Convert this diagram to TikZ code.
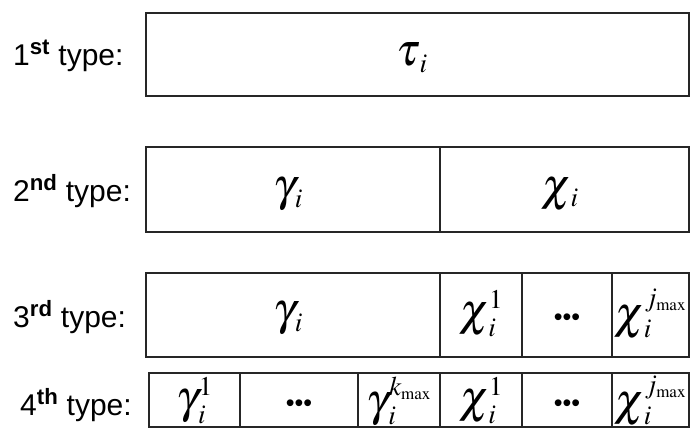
\documentclass[tikz,border=0pt]{standalone}
\usepackage{mathptmx}
\usepackage{fontspec}
\setmainfont{Liberation Sans}
\DeclareMathSizes{46}{46}{27}{17}
\begin{document}
\begin{tikzpicture}[x=1pt,y=-1pt,
  frame/.style={draw=black!85, line width=1.4pt},
  rowlabel/.style={anchor=west, inner sep=0pt, font=\fontsize{30}{32}\selectfont},
  mth/.style={inner sep=0pt, font=\fontsize{46}{48}\selectfont},
  dots/.style={inner sep=0pt, font=\fontsize{25}{27}\selectfont}]
\useasboundingbox (0,0) rectangle (691,428);
% frames
\draw[frame] (146,13) rectangle (689,96);
\draw[frame] (146,147) rectangle (440,232);
\draw[frame] (440,147) rectangle (689,232);
\draw[frame] (146,273) rectangle (440,357);
\draw[frame] (440,273) rectangle (522,357);
\draw[frame] (522,273) rectangle (612,357);
\draw[frame] (612,273) rectangle (689,357);
\draw[frame] (149,373) rectangle (240,427);
\draw[frame] (240,373) rectangle (358,427);
\draw[frame] (358,373) rectangle (440,427);
\draw[frame] (440,373) rectangle (522,427);
\draw[frame] (522,373) rectangle (612,427);
\draw[frame] (612,373) rectangle (689,427);
% row labels
\node[rowlabel] (l1) at (13,56) {1\textsuperscript{\textbf{st}} type:};
\node[rowlabel] (l2) at (13,191) {2\textsuperscript{\textbf{nd}} type:};
\node[rowlabel] (l3) at (13,317) {3\textsuperscript{\textbf{rd}} type:};
\node[rowlabel] (l4) at (20,405) {4\textsuperscript{\textbf{th}} type:};
% cell texts
\node[mth] (t1) at (412,58) {$\tau_{\,i}$};
\node[mth] (g2) at (288,194) {$\gamma_{\,i}$};
\node[mth] (c2) at (560,194) {$\chi_{\,i}$};
\node[mth] (g3) at (288,318) {$\gamma_{\,i}$};
\node[mth] (c3a) at (481,314) {$\chi_{\,i}^1$};
\node[dots] (c3b) at (567,320) {•••};
\node[mth] (c3c) at (650.5,314) {$\chi_{\,i}^{j_{\max}}$};
\node[mth] (g4a) at (194.5,401) {$\gamma_{\,i}^1$};
\node[dots] (g4b) at (299,406) {•••};
\node[mth] (g4c) at (399,401) {$\gamma_{\,i}^{k_{\max}}$};
\node[mth] (c4a) at (481,401) {$\chi_{\,i}^1$};
\node[dots] (c4b) at (567,406) {•••};
\node[mth] (c4c) at (650.5,401) {$\chi_{\,i}^{j_{\max}}$};
\end{tikzpicture}
\end{document}
